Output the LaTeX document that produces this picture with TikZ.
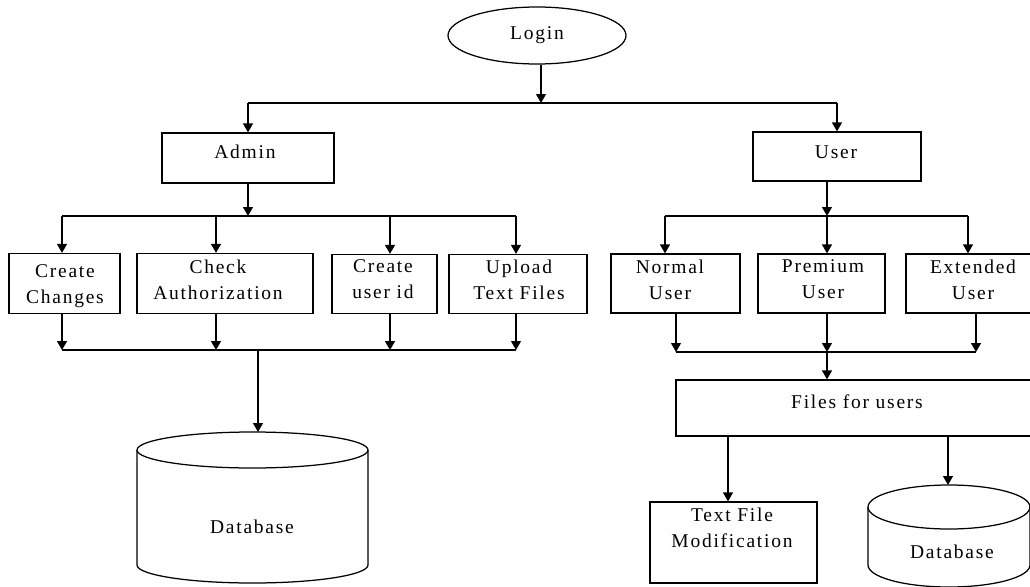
\documentclass[tikz,border=0pt]{standalone}
\usepackage{fontspec}
\setmainfont{Liberation Serif}[LetterSpace=9]
\usetikzlibrary{arrows.meta,shapes.geometric}
\begin{document}
\begin{tikzpicture}[x=1pt,y=-1pt,
  every path/.style={line width=1.25pt},
  arr/.style={-{Triangle[length=9pt,width=10pt]}},
  box/.style={draw, line width=1.25pt, inner sep=0pt},
  txt/.style={align=center, inner sep=0pt, font=\fontsize{19.5}{26}\selectfont},
  lbl/.style={font=\fontsize{19.5}{26}\selectfont}]
\useasboundingbox (0,0) rectangle (1030,586);
% Login
\node[draw, ellipse, minimum width=178pt, minimum height=57pt, inner sep=0pt, lbl] (login) at (537,35.5) {Login};
\coordinate (j0) at (541,103);
\coordinate (jl) at (248,103);
\coordinate (jr) at (837,103);
\draw[arr] (login.south -| j0) -- (j0);
\draw (jl) -- (jr);
% Admin / User
\node[box, minimum width=172pt, minimum height=50pt] (admin) at (248,158) {};
\node[lbl] at (245,152) {Admin};
\node[box, minimum width=168pt, minimum height=49pt] (user) at (837,156.5) {};
\node[lbl] at (836,152) {User};
\draw[arr] (jl) -- (admin.north);
\draw[arr] (jr) -- (user.north);
% Admin children
\coordinate (aj) at (248,216);
\draw[arr] (admin.south) -- (aj);
\coordinate (a1) at (62,216);
\coordinate (a2) at (216,216);
\coordinate (a3) at (390,216);
\coordinate (a4) at (516,216);
\draw (a1) -- (a4);
\node[box, minimum width=111pt, minimum height=60pt] (cc) at (64.5,283.5) {};
\node[box, minimum width=176pt, minimum height=60pt] (ca) at (225,283.5) {};
\node[box, minimum width=105pt, minimum height=59pt] (cu) at (384.5,284) {};
\node[box, minimum width=138pt, minimum height=59pt] (ut) at (518,284) {};
\node[txt] at (65,286) {Create\\Changes};
\node[txt] at (218,279.5) {Check\\Authorization};
\node[txt] at (383,279.5) {Create\\user id};
\node[txt] at (519,279.5) {Upload\\Text Files};
\draw[arr] (a1) -- (a1 |- cc.north);
\draw[arr] (a2) -- (a2 |- ca.north);
\draw[arr] (a3) -- (a3 |- cu.north);
\draw[arr] (a4) -- (a4 |- ut.north);
\coordinate (b1) at (62,350);
\coordinate (b2) at (216,350);
\coordinate (b3) at (390,350);
\coordinate (b4) at (516,350);
\coordinate (bj) at (258,350);
\draw[arr] (b1 |- cc.south) -- (b1);
\draw[arr] (b2 |- ca.south) -- (b2);
\draw[arr] (b3 |- cu.south) -- (b3);
\draw[arr] (b4 |- ut.south) -- (b4);
\draw (b1) -- (b4);
% left database
\coordinate (db1) at (258,432);
\draw[arr] (bj) -- (db1);
\draw (137,450) -- (137,565) arc[start angle=180, end angle=0, x radius=115.5, y radius=18] -- (368,450);
\draw (252.5,450) ellipse[x radius=115.5, y radius=18];
\node[lbl] at (252,527) {Database};
% User children
\coordinate (uj) at (827,216);
\draw[arr] (user.south -| uj) -- (uj);
\coordinate (u1) at (665,216);
\coordinate (u3) at (968,216);
\draw (u1) -- (u3);
\node[box, minimum width=129pt, minimum height=59pt] (nu) at (675.5,283.5) {};
\node[box, minimum width=127pt, minimum height=59pt] (pu) at (821.5,283.5) {};
\node[box, minimum width=134pt, minimum height=59pt] (eu) at (973,283.5) {};
\node[txt] at (670,279.5) {Normal\\User};
\node[txt] at (823,279.5) {Premium\\User};
\node[txt] at (973,279.5) {Extended\\User};
\draw[arr] (u1) -- (u1 |- nu.north);
\draw[arr] (uj) -- (uj |- pu.north);
\draw[arr] (u3) -- (u3 |- eu.north);
\coordinate (v1) at (676,352);
\coordinate (v2) at (827,352);
\coordinate (v3) at (976,352);
\draw[arr] (v1 |- nu.south) -- (v1);
\draw[arr] (v2 |- pu.south) -- (v2);
\draw[arr] (v3 |- eu.south) -- (v3);
\draw (v1) -- (v3);
% Files for users
\node[box, minimum width=364pt, minimum height=56pt] (ff) at (858,408) {};
\node[lbl] at (857,402) {Files for users};
\draw[arr] (v2) -- (v2 |- ff.north);
% Text file modification
\node[box, minimum width=167pt, minimum height=81pt] (tf) at (733.5,542.5) {};
\node[txt] at (732,527.5) {Text File\\Modification};
\coordinate (f1) at (728,436);
\draw[arr] (f1) -- (f1 |- tf.north);
% right database
\coordinate (f2) at (948,436);
\coordinate (db2) at (948,485);
\draw[arr] (f2) -- (db2);
\draw (868,507) -- (868,565) arc[start angle=180, end angle=0, x radius=81, y radius=22] -- (1030,507);
\draw (949,507) ellipse[x radius=81, y radius=22];
\node[lbl] at (952,552) {Database};
\end{tikzpicture}
\end{document}
